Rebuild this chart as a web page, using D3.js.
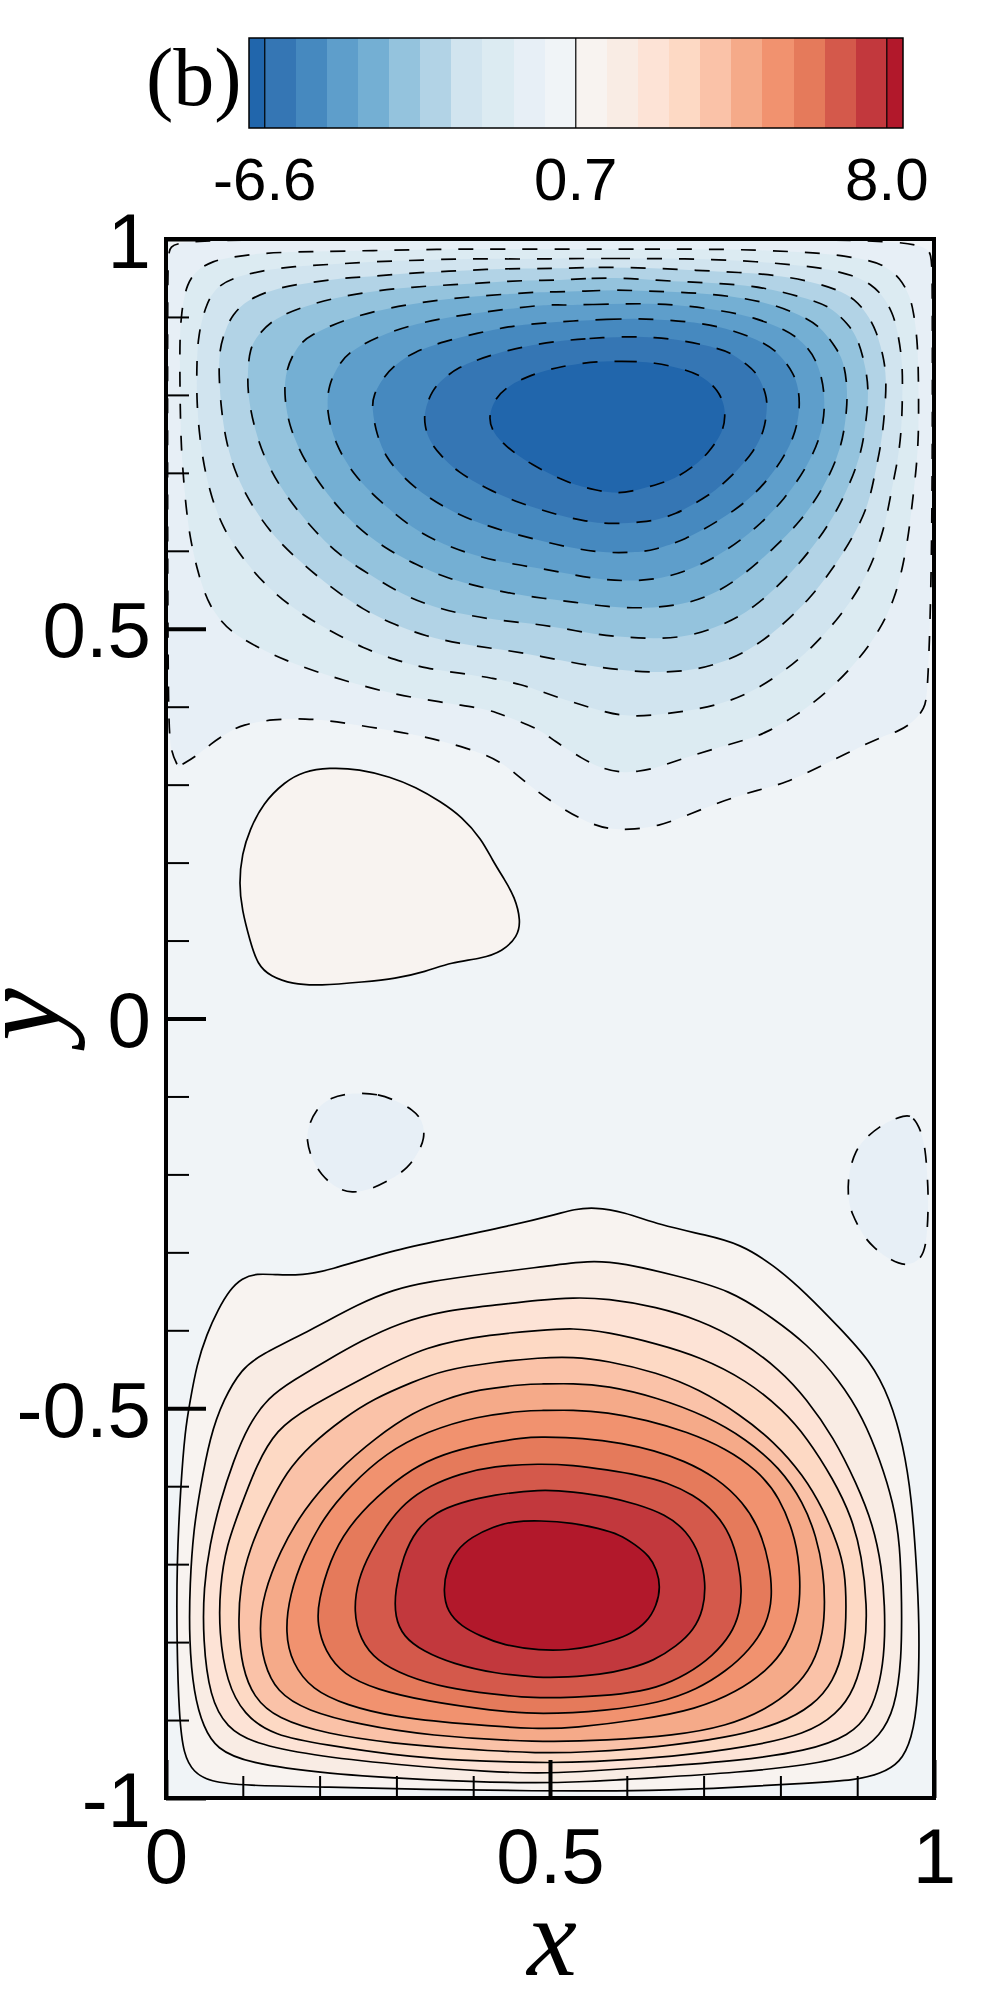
<!DOCTYPE html>
<html>
<head>
<meta charset="utf-8">
<style>
    html, body { margin: 0; padding: 0; background: #fff; }
    .tick-text, .axis text { font-family: "Liberation Sans", Arial, sans-serif; fill: #000; }
    .serif { font-family: "Liberation Serif", "Times New Roman", serif; fill: #000; }
</style>
<script src="https://d3js.org/d3.v7.min.js"></script>
</head>
<body>
<div id="chart"></div>
<script>
// contour levels and the colour of each band (band i lies below level i)
var levels = [-6.6, -5.87, -5.14, -4.41, -3.68, -2.95, -2.22, -1.49, -0.76, -0.03, 0.7,
    1.43, 2.16, 2.89, 3.62, 4.35, 5.08, 5.81, 6.54, 7.27, 8.0];
var bandColors = ["#2166ac", "#3576b4", "#4689bf", "#5e9ecb", "#74afd3", "#94c3dd", "#b2d3e6",
    "#d1e4ef", "#dcebf2", "#e7eff6", "#f0f4f7", "#f8f3f0", "#f9ece4", "#fde3d6", "#fdd9c4",
    "#fac2a8", "#f5aa89", "#f1926f", "#e57a5b", "#d4594b", "#c2383d", "#b2182b"];
var barLabels = [-6.6, 0.7, 8.0];
var barLabelText = ["-6.6", "0.7", "8.0"];
var barDomain = [-6.97, 8.38];

var xMajor = [0, 0.5, 1];
var xMinor = [0.1, 0.2, 0.3, 0.4, 0.6, 0.7, 0.8, 0.9];
var yMajor = [-1, -0.5, 0, 0.5, 1];
var yMinor = [-0.9, -0.8, -0.7, -0.6, -0.4, -0.3, -0.2, -0.1, 0.1, 0.2, 0.3, 0.4, 0.6, 0.7, 0.8, 0.9];

// contour outlines, [x, y] in data units
var lvl09 = [[.016,.323],[.016,.323],[.006,.342],[.003,.383],[.002,.6],[.002,.95],[.003,.988],[.012,.999],[.25,.999],[.5,.999],[.75,.999],[.988,.999],[.997,.979],[.998,.95],[.998,.6],[.992,.417],[.988,.398],[.973,.380],[.953,.368],[.933,.362],[.890,.342],[.847,.321],[.807,.302],[.770,.293],[.727,.280],[.684,.263],[.641,.246],[.601,.242],[.577,.243],[.551,.250],[.511,.272],[.471,.300],[.435,.332],[.391,.347],[.348,.359],[.308,.367],[.265,.374],[.222,.381],[.182,.385],[.139,.384],[.099,.377],[.079,.366],[.059,.353],[.039,.336]];
var lvl09Left = [[.245,-.095],[.278,-.097],[.298,-.105],[.322,-.117],[.335,-.132],[.337,-.154],[.328,-.173],[.315,-.192],[.292,-.207],[.265,-.220],[.242,-.224],[.222,-.218],[.202,-.201],[.189,-.179],[.183,-.156],[.185,-.139],[.195,-.117],[.213,-.101]];
var lvl09Right = [[.963,-.123],[.973,-.126],[.983,-.143],[.989,-.169],[.991,-.199],[.993,-.229],[.991,-.288],[.983,-.310],[.964,-.318],[.943,-.310],[.920,-.293],[.906,-.276],[.893,-.250],[.888,-.233],[.888,-.199],[.898,-.169],[.910,-.154],[.933,-.135]];
var lvl08 = [[.539,.987],[.624,.987],[.706,.987],[.769,.986],[.832,.983],[.873,.980],[.914,.973],[.936,.966],[.956,.950],[.968,.928],[.973,.909],[.979,.868],[.980,.804],[.980,.746],[.977,.706],[.972,.663],[.967,.622],[.960,.582],[.949,.539],[.930,.499],[.902,.460],[.864,.421],[.822,.389],[.780,.366],[.760,.359],[.717,.347],[.674,.334],[.634,.320],[.614,.317],[.594,.315],[.567,.321],[.544,.332],[.504,.357],[.485,.372],[.444,.387],[.422,.396],[.383,.402],[.339,.409],[.298,.416],[.255,.427],[.214,.439],[.172,.453],[.131,.470],[.090,.492],[.072,.509],[.057,.530],[.049,.550],[.042,.571],[.032,.612],[.026,.655],[.021,.714],[.019,.755],[.018,.819],[.018,.877],[.020,.900],[.022,.917],[.027,.941],[.039,.960],[.062,.972],[.081,.976],[.122,.982],[.188,.984],[.270,.985],[.352,.987],[.437,.987]];
var lvl07 = [[.522,.975],[.585,.975],[.646,.975],[.711,.974],[.771,.971],[.813,.967],[.855,.963],[.897,.953],[.918,.942],[.934,.927],[.946,.905],[.952,.885],[.959,.844],[.959,.802],[.958,.761],[.954,.721],[.945,.680],[.938,.640],[.925,.597],[.906,.556],[.878,.516],[.841,.475],[.802,.443],[.760,.417],[.718,.402],[.676,.394],[.635,.389],[.613,.388],[.591,.389],[.569,.394],[.528,.406],[.487,.420],[.465,.428],[.424,.437],[.383,.443],[.339,.449],[.298,.460],[.257,.475],[.216,.496],[.174,.520],[.133,.552],[.101,.588],[.074,.629],[.059,.669],[.049,.710],[.043,.753],[.040,.793],[.040,.834],[.041,.860],[.043,.877],[.046,.893],[.053,.917],[.064,.937],[.086,.950],[.127,.960],[.168,.965],[.209,.967],[.270,.971],[.335,.973],[.396,.975],[.459,.974]];
var lvl06 = [[.502,.962],[.563,.964],[.626,.963],[.687,.960],[.749,.957],[.791,.954],[.834,.947],[.875,.935],[.897,.923],[.912,.905],[.925,.883],[.936,.843],[.938,.813],[.936,.781],[.932,.740],[.923,.699],[.915,.659],[.895,.618],[.869,.578],[.839,.539],[.799,.501],[.758,.471],[.717,.454],[.676,.445],[.633,.444],[.591,.447],[.548,.453],[.507,.461],[.465,.469],[.424,.475],[.382,.481],[.339,.490],[.298,.505],[.257,.524],[.216,.552],[.177,.584],[.142,.616],[.112,.657],[.091,.697],[.078,.740],[.072,.781],[.069,.820],[.069,.858],[.078,.885],[.086,.902],[.105,.922],[.146,.938],[.188,.944],[.229,.950],[.270,.952],[.313,.956],[.355,.958],[.396,.960],[.439,.962],[.480,.962]];
var lvl05 = [[.513,.947],[.554,.950],[.596,.950],[.639,.947],[.680,.945],[.721,.943],[.763,.940],[.804,.932],[.847,.920],[.867,.911],[.888,.891],[.901,.873],[.912,.832],[.915,.802],[.912,.770],[.906,.727],[.891,.687],[.871,.646],[.843,.605],[.808,.565],[.765,.526],[.726,.505],[.682,.490],[.639,.487],[.598,.489],[.557,.493],[.515,.501],[.474,.507],[.431,.511],[.389,.518],[.348,.528],[.307,.544],[.266,.569],[.224,.595],[.188,.631],[.155,.672],[.131,.712],[.116,.753],[.107,.796],[.106,.826],[.109,.860],[.120,.877],[.140,.898],[.181,.914],[.222,.925],[.263,.932],[.305,.937],[.346,.940],[.389,.942],[.431,.945],[.472,.947]];
var lvl04 = [[.504,.932],[.546,.933],[.587,.935],[.628,.933],[.670,.932],[.713,.929],[.754,.924],[.795,.915],[.836,.898],[.856,.883],[.871,.862],[.882,.845],[.887,.813],[.887,.783],[.880,.731],[.856,.680],[.826,.637],[.789,.601],[.750,.567],[.708,.541],[.667,.530],[.624,.526],[.574,.528],[.533,.534],[.491,.539],[.450,.545],[.407,.554],[.365,.565],[.326,.582],[.285,.603],[.242,.635],[.207,.676],[.181,.714],[.161,.757],[.154,.796],[.155,.830],[.170,.862],[.188,.877],[.231,.896],[.274,.908],[.316,.916],[.357,.922],[.398,.926],[.439,.929],[.483,.932]];
var lvl03 = [[.513,.915],[.557,.916],[.600,.917],[.641,.917],[.682,.914],[.724,.908],[.765,.900],[.808,.883],[.828,.869],[.847,.847],[.859,.804],[.856,.753],[.834,.706],[.806,.667],[.769,.629],[.728,.599],[.689,.578],[.646,.564],[.604,.561],[.567,.563],[.526,.570],[.485,.578],[.444,.584],[.402,.594],[.361,.608],[.320,.629],[.279,.663],[.244,.697],[.220,.738],[.209,.778],[.211,.813],[.227,.843],[.244,.859],[.285,.879],[.329,.892],[.370,.900],[.411,.906],[.452,.911],[.496,.916]];
var lvl02 = [[.530,.895],[.574,.897],[.615,.898],[.656,.896],[.698,.892],[.739,.883],[.782,.866],[.800,.851],[.817,.828],[.823,.811],[.826,.785],[.819,.746],[.795,.704],[.760,.665],[.719,.638],[.676,.614],[.635,.601],[.615,.598],[.569,.597],[.526,.604],[.483,.614],[.441,.625],[.400,.638],[.359,.657],[.322,.682],[.303,.701],[.287,.719],[.274,.749],[.268,.783],[.270,.800],[.283,.823],[.300,.840],[.322,.855],[.363,.869],[.405,.879],[.446,.888],[.487,.892]];
var lvl01 = [[.509,.869],[.550,.8725],[.600,.875],[.635,.874],[.674,.870],[.717,.860],[.734,.855],[.758,.838],[.771,.826],[.782,.800],[.783,.783],[.779,.753],[.765,.727],[.743,.702],[.723,.684],[.708,.672],[.682,.657],[.665,.648],[.641,.640],[.622,.637],[.581,.634],[.543,.638],[.503,.648],[.461,.661],[.420,.678],[.378,.702],[.357,.723],[.342,.742],[.337,.761],[.336,.778],[.346,.806],[.363,.823],[.383,.836],[.400,.843],[.426,.852],[.465,.862]];
var lvl00 = [[.552,.8426],[.593,.8435],[.637,.842],[.678,.832],[.700,.823],[.719,.806],[.727,.787],[.728,.774],[.726,.753],[.706,.725],[.687,.708],[.663,.693],[.646,.687],[.604,.675],[.581,.674],[.559,.678],[.535,.684],[.518,.690],[.476,.710],[.439,.736],[.424,.755],[.420,.772],[.428,.796],[.448,.813],[.470,.823],[.489,.830],[.513,.836]];

var lvl10Top = [[.212,.322],[.252,.320],[.292,.310],[.325,.297],[.358,.278],[.385,.259],[.411,.230],[.425,.203],[.441,.178],[.454,.156],[.462,.126],[.458,.105],[.438,.086],[.411,.077],[.371,.072],[.338,.060],[.298,.051],[.258,.047],[.199,.042],[.165,.044],[.136,.054],[.119,.069],[.109,.101],[.099,.139],[.095,.173],[.099,.212],[.109,.242],[.126,.276],[.155,.304],[.179,.317]];
var lvl10 = [[.530,-.245],[.558,-.242],[.596,-.248],[.643,-.265],[.704,-.278],[.747,-.289],[.791,-.316],[.834,-.353],[.877,-.397],[.917,-.439],[.943,-.488],[.960,-.547],[.971,-.616],[.977,-.699],[.981,-.773],[.980,-.871],[.971,-.925],[.956,-.955],[.930,-.969],[.899,-.977],[.834,-.981],[.747,-.986],[.639,-.991],[.470,-.991],[.339,-.989],[.209,-.986],[.101,-.984],[.057,-.979],[.036,-.967],[.023,-.945],[.017,-.896],[.014,-.797],[.014,-.699],[.019,-.601],[.025,-.527],[.031,-.493],[.040,-.444],[.053,-.405],[.068,-.373],[.083,-.348],[.099,-.333],[.118,-.327],[.144,-.329],[.179,-.329],[.209,-.324],[.296,-.297],[.361,-.284],[.448,-.266],[.513,-.250]];
var lvl11 = [[.487,-.319],[.552,-.310],[.596,-.314],[.661,-.329],[.735,-.348],[.791,-.385],[.834,-.417],[.877,-.464],[.908,-.513],[.930,-.567],[.947,-.621],[.956,-.675],[.958,-.748],[.958,-.822],[.949,-.886],[.930,-.920],[.899,-.945],[.834,-.958],[.747,-.967],[.639,-.974],[.530,-.980],[.470,-.981],[.339,-.977],[.209,-.969],[.105,-.955],[.066,-.937],[.049,-.910],[.036,-.866],[.030,-.797],[.031,-.724],[.036,-.655],[.044,-.606],[.057,-.537],[.075,-.488],[.099,-.449],[.122,-.432],[.188,-.400],[.253,-.365],[.296,-.348],[.339,-.338],[.426,-.326]];
var lvl12 = [[.487,-.361],[.530,-.358],[.574,-.359],[.639,-.370],[.695,-.387],[.747,-.412],[.800,-.451],[.834,-.488],[.869,-.537],[.899,-.596],[.921,-.650],[.932,-.704],[.936,-.753],[.936,-.807],[.930,-.851],[.917,-.891],[.891,-.920],[.834,-.940],[.747,-.952],[.639,-.960],[.530,-.967],[.487,-.968],[.426,-.967],[.296,-.957],[.188,-.945],[.114,-.930],[.079,-.910],[.057,-.871],[.048,-.797],[.049,-.729],[.057,-.675],[.070,-.621],[.088,-.567],[.107,-.522],[.133,-.486],[.166,-.464],[.209,-.439],[.253,-.414],[.305,-.390],[.361,-.375],[.426,-.368]];
var lvl13 = [[.487,-.400],[.530,-.397],[.574,-.402],[.639,-.417],[.695,-.434],[.756,-.464],[.804,-.503],[.834,-.537],[.869,-.591],[.893,-.640],[.906,-.689],[.913,-.753],[.911,-.807],[.897,-.861],[.873,-.893],[.834,-.918],[.756,-.935],[.661,-.947],[.552,-.954],[.487,-.955],[.383,-.952],[.296,-.945],[.209,-.932],[.140,-.920],[.101,-.893],[.079,-.851],[.069,-.788],[.070,-.729],[.079,-.675],[.096,-.630],[.118,-.572],[.144,-.527],[.183,-.500],[.261,-.459],[.339,-.419],[.426,-.405]];
var lvl14 = [[.487,-.435],[.530,-.434],[.574,-.439],[.639,-.454],[.695,-.476],[.747,-.508],[.791,-.542],[.830,-.586],[.856,-.630],[.875,-.675],[.884,-.709],[.886,-.753],[.884,-.807],[.869,-.851],[.843,-.881],[.800,-.905],[.730,-.923],[.639,-.935],[.552,-.941],[.487,-.943],[.383,-.937],[.296,-.930],[.209,-.918],[.144,-.898],[.114,-.871],[.099,-.832],[.094,-.783],[.096,-.729],[.109,-.680],[.131,-.630],[.157,-.581],[.188,-.547],[.231,-.513],[.270,-.488],[.322,-.466],[.361,-.451],[.426,-.441]];
var lvl15 = [[.487,-.469],[.530,-.468],[.574,-.471],[.639,-.486],[.704,-.510],[.756,-.540],[.799,-.576],[.830,-.621],[.847,-.665],[.856,-.709],[.858,-.748],[.856,-.788],[.843,-.829],[.817,-.861],[.782,-.886],[.730,-.908],[.661,-.920],[.574,-.926],[.487,-.929],[.339,-.920],[.253,-.906],[.183,-.888],[.144,-.864],[.127,-.827],[.121,-.783],[.127,-.738],[.148,-.684],[.179,-.630],[.222,-.581],[.274,-.537],[.322,-.505],[.365,-.488],[.405,-.476],[.470,-.469]];
var lvl16 = [[.487,-.503],[.530,-.502],[.574,-.505],[.626,-.515],[.678,-.530],[.730,-.552],[.769,-.579],[.799,-.613],[.821,-.670],[.826,-.716],[.825,-.763],[.808,-.807],[.782,-.837],[.743,-.864],[.691,-.886],[.617,-.900],[.530,-.910],[.487,-.912],[.383,-.905],[.296,-.896],[.235,-.881],[.190,-.861],[.164,-.827],[.155,-.788],[.161,-.739],[.179,-.689],[.205,-.640],[.240,-.599],[.287,-.557],[.339,-.530],[.405,-.510],[.470,-.503]];
var lvl17 = [[.487,-.537],[.543,-.538],[.596,-.545],[.635,-.554],[.674,-.567],[.717,-.589],[.752,-.621],[.773,-.655],[.786,-.699],[.790,-.743],[.782,-.778],[.760,-.810],[.730,-.837],[.691,-.861],[.643,-.878],[.574,-.888],[.487,-.893],[.426,-.888],[.339,-.876],[.274,-.861],[.231,-.842],[.207,-.812],[.197,-.778],[.198,-.748],[.214,-.694],[.235,-.655],[.274,-.613],[.322,-.576],[.361,-.559],[.405,-.547],[.470,-.537]];
var lvl18 = [[.487,-.571],[.530,-.573],[.574,-.579],[.617,-.586],[.652,-.595],[.687,-.611],[.715,-.633],[.735,-.662],[.746,-.699],[.750,-.734],[.747,-.763],[.736,-.790],[.713,-.817],[.678,-.842],[.639,-.859],[.596,-.867],[.530,-.871],[.478,-.872],[.426,-.867],[.365,-.859],[.313,-.844],[.274,-.824],[.253,-.797],[.244,-.761],[.250,-.719],[.266,-.684],[.287,-.650],[.311,-.621],[.344,-.599],[.383,-.584],[.426,-.574]];
var lvl19 = [[.487,-.604],[.530,-.607],[.574,-.613],[.613,-.623],[.650,-.636],[.678,-.657],[.696,-.689],[.703,-.724],[.700,-.758],[.687,-.785],[.665,-.805],[.635,-.824],[.604,-.834],[.565,-.842],[.522,-.845],[.487,-.846],[.426,-.840],[.374,-.828],[.335,-.812],[.309,-.793],[.298,-.768],[.298,-.734],[.309,-.689],[.326,-.655],[.352,-.633],[.383,-.621],[.426,-.611]];
var lvl20 = [[.487,-.644],[.530,-.647],[.563,-.654],[.591,-.662],[.611,-.675],[.630,-.690],[.639,-.707],[.644,-.729],[.639,-.753],[.626,-.775],[.604,-.790],[.585,-.797],[.552,-.806],[.526,-.810],[.487,-.811],[.439,-.804],[.409,-.792],[.385,-.780],[.366,-.761],[.361,-.734],[.365,-.707],[.378,-.682],[.398,-.665],[.426,-.652],[.452,-.645]];

// painter order: outer contours first, k is the index into levels
var contours = [
    {k: 9, pts: lvl09}, {k: 9, pts: lvl09Left}, {k: 9, pts: lvl09Right},
    {k: 8, pts: lvl08}, {k: 7, pts: lvl07}, {k: 6, pts: lvl06}, {k: 5, pts: lvl05},
    {k: 4, pts: lvl04}, {k: 3, pts: lvl03}, {k: 2, pts: lvl02}, {k: 1, pts: lvl01}, {k: 0, pts: lvl00},
    {k: 10, pts: lvl10Top}, {k: 10, pts: lvl10}, {k: 11, pts: lvl11}, {k: 12, pts: lvl12},
    {k: 13, pts: lvl13}, {k: 14, pts: lvl14}, {k: 15, pts: lvl15}, {k: 16, pts: lvl16},
    {k: 17, pts: lvl17}, {k: 18, pts: lvl18}, {k: 19, pts: lvl19}, {k: 20, pts: lvl20}
];

var svg = d3.select("#chart").append("svg")
    .attr("width", 1000)
    .attr("height", 1999)
    .style("display", "block");

var x = d3.scaleLinear().domain([0, 1]).range([166, 934]);
var y = d3.scaleLinear().domain([-1, 1]).range([1798, 239]);
var barX = d3.scaleLinear().domain(barDomain).range([249, 903]);

svg.append("clipPath")
    .attr("id", "plot-clip")
    .append("rect")
    .attr("x", x(0))
    .attr("y", y(1))
    .attr("width", x(1) - x(0))
    .attr("height", y(-1) - y(1));

// background band
svg.append("rect")
    .attr("x", x(0))
    .attr("y", y(1))
    .attr("width", x(1) - x(0))
    .attr("height", y(-1) - y(1))
    .attr("fill", bandColors[10]);

var contourLine = d3.line()
    .x(function(d) { return x(d[0]); })
    .y(function(d) { return y(d[1]); })
    .curve(d3.curveBasisClosed);

svg.append("g")
    .attr("clip-path", "url(#plot-clip)")
    .selectAll("path.contour")
    .data(contours)
    .join("path")
    .attr("class", "contour")
    .attr("d", function(d) { return contourLine(d.pts); })
    .attr("fill", function(d) { return d.k < 10 ? bandColors[d.k] : bandColors[d.k + 1]; })
    .attr("stroke", "#000")
    .attr("stroke-width", 1.7)
    .attr("stroke-dasharray", function(d) { return d.k < 10 ? "15,17" : null; });

// axes, ticks point into the plot
function styleAxis(g, width) {
    g.select(".domain").remove();
    g.selectAll("line").attr("stroke", "#000").attr("stroke-width", width);
}

svg.append("g")
    .attr("transform", "translate(" + x(0) + ",0)")
    .call(d3.axisLeft(y).tickValues(yMinor).tickSize(-23).tickFormat(""))
    .call(styleAxis, 2);

svg.append("g")
    .attr("class", "axis")
    .attr("transform", "translate(" + x(0) + ",0)")
    .call(d3.axisLeft(y).tickValues(yMajor).tickSize(-40).tickPadding(15).tickFormat(function(d) { return String(d); }))
    .call(styleAxis, 4)
    .call(function(g) {
        g.selectAll("text").attr("font-size", 78).attr("dy", "0.36em");
    });

svg.append("g")
    .attr("transform", "translate(0," + y(-1) + ")")
    .call(d3.axisBottom(x).tickValues(xMinor).tickSize(-22).tickFormat(""))
    .call(styleAxis, 2);

svg.append("g")
    .attr("class", "axis")
    .attr("transform", "translate(0," + y(-1) + ")")
    .call(d3.axisBottom(x).tickValues(xMajor).tickSize(-38).tickPadding(30).tickFormat(function(d) { return String(d); }))
    .call(styleAxis, 4)
    .call(function(g) {
        g.selectAll("text").attr("font-size", 78);
    });

svg.append("rect")
    .attr("x", x(0))
    .attr("y", y(1))
    .attr("width", x(1) - x(0))
    .attr("height", y(-1) - y(1))
    .attr("fill", "none")
    .attr("stroke", "#000")
    .attr("stroke-width", 4);

svg.append("text")
    .attr("class", "serif")
    .attr("x", x(0.5) + 2)
    .attr("y", 1975)
    .attr("text-anchor", "middle")
    .attr("font-size", 112)
    .attr("font-style", "italic")
    .text("x");

svg.append("text")
    .attr("class", "serif")
    .attr("transform", "translate(60," + y(0.005) + ") rotate(-90)")
    .attr("text-anchor", "middle")
    .attr("font-size", 118)
    .attr("font-style", "italic")
    .text("y");

// colour bar
var barEdges = [barDomain[0]].concat(levels, [barDomain[1]]);

svg.selectAll("rect.band")
    .data(bandColors)
    .join("rect")
    .attr("class", "band")
    .attr("x", function(d, i) { return barX(barEdges[i]); })
    .attr("y", 38)
    .attr("width", function(d, i) { return barX(barEdges[i + 1]) - barX(barEdges[i]); })
    .attr("height", 90)
    .attr("fill", function(d) { return d; })
    .attr("shape-rendering", "crispEdges");

svg.selectAll("line.bar-level")
    .data(barLabels)
    .join("line")
    .attr("class", "bar-level")
    .attr("x1", function(d) { return barX(d); })
    .attr("x2", function(d) { return barX(d); })
    .attr("y1", 38)
    .attr("y2", 128)
    .attr("stroke", "#000")
    .attr("stroke-width", 1.2);

svg.append("rect")
    .attr("x", barX(barDomain[0]))
    .attr("y", 38)
    .attr("width", barX(barDomain[1]) - barX(barDomain[0]))
    .attr("height", 90)
    .attr("fill", "none")
    .attr("stroke", "#000")
    .attr("stroke-width", 1.5);

svg.selectAll("text.bar-label")
    .data(barLabels)
    .join("text")
    .attr("class", "bar-label tick-text")
    .attr("x", function(d) { return barX(d); })
    .attr("y", 200)
    .attr("text-anchor", "middle")
    .attr("font-size", 60)
    .text(function(d, i) { return barLabelText[i]; });

svg.append("text")
    .attr("class", "serif")
    .attr("x", 146)
    .attr("y", 105)
    .attr("font-size", 82)
    .text("(b)");
</script>
</body>
</html>
